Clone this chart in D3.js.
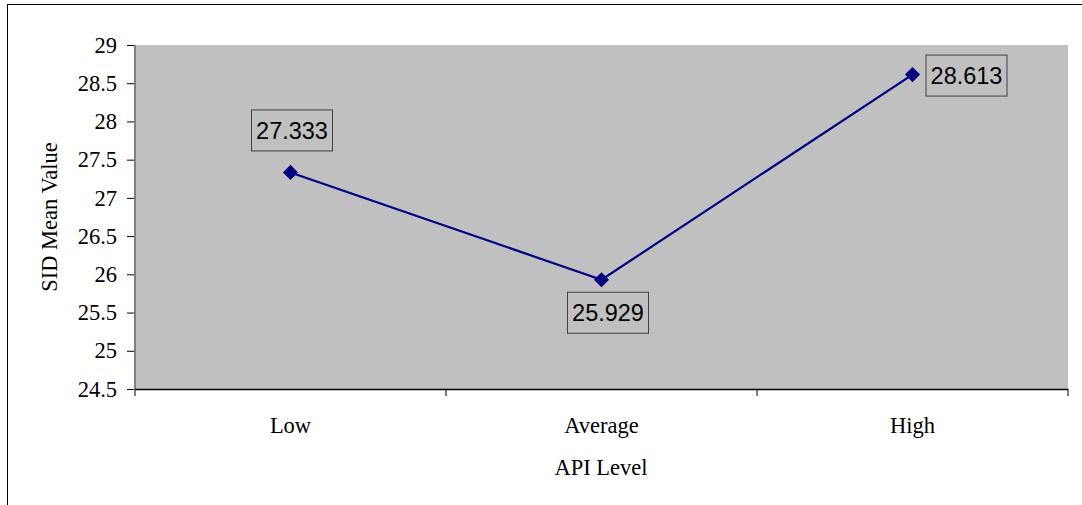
<!DOCTYPE html>
<html>
<head>
<meta charset="utf-8">
<script src="https://cdn.jsdelivr.net/npm/d3@7"></script>
<style>
  html, body { margin: 0; padding: 0; background: #fff; }
  svg { display: block; }
  .serif { font-family: 'Liberation Serif', 'Times New Roman', serif; }
</style>
</head>
<body>
<svg id="chart" width="1082" height="505"></svg>
<script>
// SID mean value by API level
const categories = ["Low", "Average", "High"];
const meanValues = [27.333, 25.929, 28.613];
const yTicks = [24.5, 25, 25.5, 26, 26.5, 27, 27.5, 28, 28.5, 29];
const xTitle = "API Level";
const yTitle = "SID Mean Value";

const svg = d3.select("#chart");
const W = 1082, H = 505;
const plot = { left: 135, top: 45, right: 1068, bottom: 389 };

// outer frame
svg.append("rect")
  .attr("x", 7.5).attr("y", 4.5)
  .attr("width", W + 20).attr("height", H + 20)
  .attr("fill", "#fff").attr("stroke", "#000").attr("stroke-width", 1);

const x = d3.scaleBand().domain(categories).range([plot.left, plot.right]);
const y = d3.scaleLinear().domain([24.5, 29]).range([plot.bottom, plot.top]);

// plot area
svg.append("rect")
  .attr("x", plot.left).attr("y", plot.top)
  .attr("width", plot.right - plot.left).attr("height", plot.bottom - plot.top)
  .attr("fill", "#c0c0c0");

const serifFont = "'Liberation Serif', 'Times New Roman', serif";

// y axis
const yAxis = svg.append("g")
  .attr("transform", `translate(${plot.left},0)`)
  .call(d3.axisLeft(y).tickValues(yTicks).tickSize(8).tickPadding(10).tickFormat(d3.format("")));
yAxis.attr("font-family", null).attr("font-size", null);
yAxis.select(".domain").remove();
yAxis.selectAll(".tick line").attr("stroke", "#000");
yAxis.selectAll("text")
  .style("font-family", serifFont).style("font-size", "22.5px").attr("fill", "#000");
svg.append("line")
  .attr("x1", plot.left).attr("x2", plot.left)
  .attr("y1", plot.top).attr("y2", plot.bottom + 7)
  .attr("stroke", "#808080").attr("stroke-width", 2);

// x axis with ticks on category boundaries
const boundaries = categories.map(c => x(c)).concat([x.range()[1]]);
svg.append("line")
  .attr("x1", plot.left).attr("x2", plot.right)
  .attr("y1", plot.bottom + 0.5).attr("y2", plot.bottom + 0.5)
  .attr("stroke", "#000").attr("stroke-width", 1.5);
svg.selectAll(".xtick").data(boundaries.slice(1)).join("line")
  .attr("class", "xtick")
  .attr("x1", d => d).attr("x2", d => d)
  .attr("y1", plot.bottom).attr("y2", plot.bottom + 7)
  .attr("stroke", "#000");
svg.selectAll(".xlabel").data(categories).join("text")
  .attr("class", "xlabel")
  .attr("x", d => x(d) + x.bandwidth() / 2)
  .attr("y", 433)
  .attr("text-anchor", "middle")
  .style("font-family", serifFont).style("font-size", "22.5px").attr("fill", "#000")
  .text(d => d);

// axis titles
svg.append("text")
  .attr("x", (plot.left + plot.right) / 2 - 0.5).attr("y", 475)
  .attr("text-anchor", "middle")
  .style("font-family", serifFont).style("font-size", "22.5px").attr("fill", "#000")
  .text(xTitle);
svg.append("text")
  .attr("transform", `translate(57,${(plot.top + plot.bottom) / 2}) rotate(-90)`)
  .attr("text-anchor", "middle")
  .style("font-family", serifFont).style("font-size", "22.5px").attr("fill", "#000")
  .text(yTitle);

// series line
const pts = categories.map((c, i) => ({ c, v: meanValues[i] }));
svg.append("path")
  .datum(pts)
  .attr("d", d3.line().x(d => x(d.c) + x.bandwidth() / 2).y(d => y(d.v)))
  .attr("fill", "none").attr("stroke", "#000080").attr("stroke-width", 2.2);

// diamond markers
svg.selectAll(".marker").data(pts).join("path")
  .attr("class", "marker")
  .attr("d", d3.symbol().type(d3.symbolSquare).size(115))
  .attr("transform", d => `translate(${x(d.c) + x.bandwidth() / 2},${y(d.v)}) rotate(45)`)
  .attr("fill", "#000080");

// value labels in boxes
const labelOffsets = [[1.5, -42], [6.5, 33], [54, 1]];
const sansFont = "'Liberation Sans', Arial, sans-serif";
const lbl = svg.selectAll(".vlabel").data(pts).join("g")
  .attr("class", "vlabel")
  .attr("transform", (d, i) =>
    `translate(${x(d.c) + x.bandwidth() / 2 + labelOffsets[i][0]},${y(d.v) + labelOffsets[i][1]})`);
lbl.append("rect")
  .attr("x", -40.5).attr("y", -20.5)
  .attr("width", 81).attr("height", 41)
  .attr("fill", "#c0c0c0").attr("stroke", "#404040").attr("stroke-width", 1);
lbl.append("text")
  .attr("text-anchor", "middle")
  .attr("dy", "0.36em")
  .style("font-family", sansFont).style("font-size", "23.5px").attr("fill", "#000")
  .text(d => d3.format(".3f")(d.v));
</script>
</body>
</html>
